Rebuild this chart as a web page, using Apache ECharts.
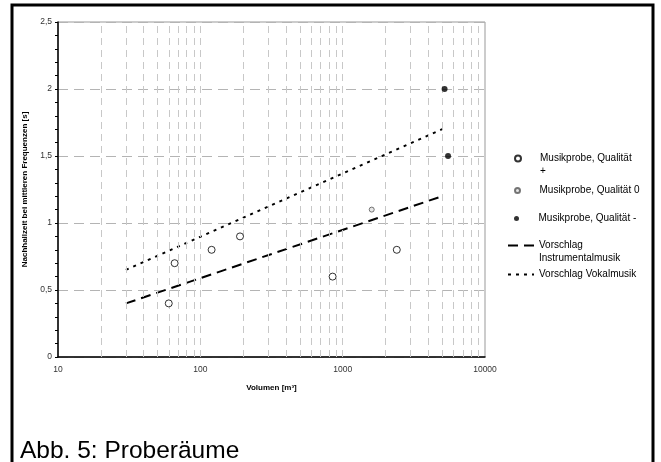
<!DOCTYPE html>
<html>
<head>
    <meta charset="utf-8" />
    <title>Proberäume</title>
    <script src="https://cdn.jsdelivr.net/npm/echarts@6/dist/echarts.min.js"></script>
    <style>
        body { margin: 0; background: #fff; }
        #main { width: 661px; height: 462px; }
    </style>
</head>
<body>
    <div id="main"></div>
    <script type="text/javascript">
        // Messwerte: [Volumen m3, Nachhallzeit s]
        var qualPlus = [[60, 0.4], [66, 0.7], [120, 0.8], [190, 0.9], [850, 0.6], [2400, 0.8]];
        var qualNull = [[1600, 1.1]];
        var qualMinus = [[5200, 2.0], [5500, 1.5]];
        var instrumental = [[30, 0.4], [5000, 1.2]];
        var vokal = [[30, 0.65], [5000, 1.7]];
        // senkrechte Gitterlinien (log)
        var gridX = [20, 30, 40, 50, 60, 70, 80, 90, 100, 200, 300, 400, 500, 600, 700, 800, 900,
                     1000, 2000, 3000, 4000, 5000, 6000, 7000, 8000, 9000];

        var font = 'Liberation Sans, Arial, sans-serif';
        var myChart = echarts.init(document.getElementById('main'));

        // leere erste Zeile, damit das Symbol auf Hoehe der ersten Textzeile steht
        function legendFor(name, text, left, top, w, h, hideSymbol) {
            var lg = {
                data: [name],
                formatter: function () { return text; },
                left: left,
                top: top,
                itemWidth: w,
                itemHeight: h,
                selectedMode: false,
                textStyle: { fontFamily: font, fontSize: 10, color: '#000', lineHeight: 13 }
            };
            if (hideSymbol) {
                lg.itemStyle = { opacity: 0 };
            }
            return lg;
        }

        var option = {
            animation: false,
            grid: {
                left: 58, top: 22, right: 176, bottom: 105,
                show: true, borderColor: '#999', borderWidth: 1
            },
            legend: [
                legendFor('Musikprobe, Qualität +', '\nMusikprobe, Qualität\n+', 509, 134, 34, 6),
                legendFor('Musikprobe, Qualität 0', 'Musikprobe, Qualität 0', 509, 179, 34, 5),
                legendFor('Musikprobe, Qualität -', 'Musikprobe, Qualität -', 509, 207, 34, 5),
                legendFor('Vorschlag Instrumentalmusik', '\nVorschlag\nInstrumentalmusik', 502, 221, 26, 7, true),
                legendFor('Vorschlag Vokalmusik', 'Vorschlag Vokalmusik', 502, 263, 26, 7, true)
            ],
            xAxis: {
                type: 'log',
                logBase: 10,
                min: 10,
                max: 10000,
                name: 'Volumen [m³]',
                nameLocation: 'middle',
                nameGap: 27,
                nameTextStyle: { fontFamily: font, fontSize: 8, fontWeight: 'bold', color: '#000' },
                axisLine: { lineStyle: { color: '#000', width: 1.5 } },
                axisTick: { show: false },
                axisLabel: {
                    fontFamily: font, fontSize: 8.5, color: '#333', margin: 8,
                    formatter: function (v) { return String(Math.round(v)); }
                },
                splitLine: { show: false }
            },
            yAxis: {
                type: 'value',
                min: 0,
                max: 2.5,
                interval: 0.5,
                name: 'Nachhallzeit bei mittleren Frequenzen [s]',
                nameLocation: 'middle',
                nameGap: 29,
                nameTextStyle: { fontFamily: font, fontSize: 8, fontWeight: 'bold', color: '#000' },
                axisLine: { show: true, lineStyle: { color: '#000', width: 1.5 } },
                axisTick: { show: true, inside: false, length: 3, lineStyle: { color: '#000' } },
                minorTick: { show: true, splitNumber: 5, length: 3, lineStyle: { color: '#000' } },
                axisLabel: {
                    fontFamily: font, fontSize: 8.5, color: '#333', margin: 6,
                    formatter: function (v) { return String(v).replace('.', ','); }
                },
                splitLine: { show: true, lineStyle: { color: '#b4b4b4', type: [10, 6], width: 1 } }
            },
            series: [
                {
                    name: 'Musikprobe, Qualität +',
                    type: 'scatter',
                    symbol: 'circle',
                    symbolSize: 7,
                    itemStyle: { color: '#fff', borderColor: '#000', borderWidth: 1 },
                    data: qualPlus,
                    markLine: {
                        silent: true,
                        symbol: 'none',
                        label: { show: false },
                        lineStyle: { color: '#c8c8c8', type: [7, 5], width: 1 },
                        data: gridX.map(function (v) { return { xAxis: v }; })
                    },
                    z: 5
                },
                {
                    name: 'Musikprobe, Qualität 0',
                    type: 'scatter',
                    symbol: 'circle',
                    symbolSize: 5,
                    itemStyle: { color: '#e0e0e0', borderColor: '#555', borderWidth: 1 },
                    data: qualNull,
                    z: 5
                },
                {
                    name: 'Musikprobe, Qualität -',
                    type: 'scatter',
                    symbol: 'circle',
                    symbolSize: 6,
                    itemStyle: { color: '#000' },
                    data: qualMinus,
                    z: 5
                },
                {
                    name: 'Vorschlag Instrumentalmusik',
                    type: 'line',
                    symbol: 'none',
                    lineStyle: { color: '#000', width: 2, type: [10, 6] },
                    itemStyle: { color: '#000' },
                    data: instrumental,
                    z: 4
                },
                {
                    name: 'Vorschlag Vokalmusik',
                    type: 'line',
                    symbol: 'none',
                    lineStyle: { color: '#000', width: 2, type: [3, 5] },
                    itemStyle: { color: '#000' },
                    data: vokal,
                    z: 4
                }
            ],
            graphic: [
                {
                    type: 'rect',
                    shape: { x: 12, y: 5, width: 641, height: 470 },
                    style: { fill: 'none', stroke: '#000', lineWidth: 3 },
                    silent: true
                },
                {
                    type: 'text',
                    left: 20,
                    top: 439,
                    style: { text: 'Abb. 5: Proberäume', fontFamily: font, fontSize: 24.5, fill: '#000' }
                }
            ]
        };

        myChart.setOption(option);
    </script>
</body>
</html>
